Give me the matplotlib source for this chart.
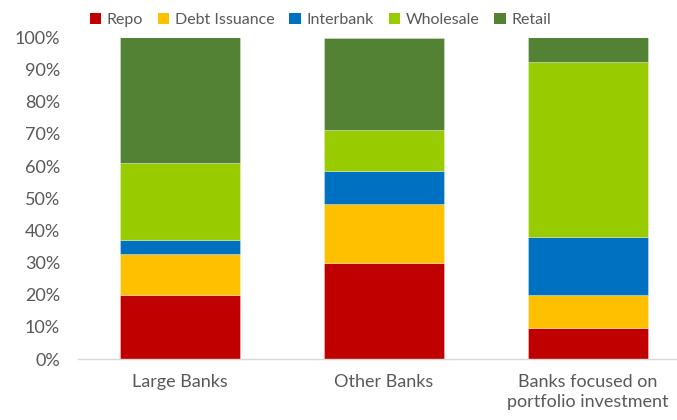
import matplotlib
matplotlib.use("Agg")
import matplotlib.pyplot as plt
from matplotlib.patches import Patch
import numpy as np

plt.rcParams['font.family'] = ['Lato', 'DejaVu Sans']

categories = ["Large Banks", "Other Banks", "Banks focused on\nportfolio investment"]
series_names = ["Repo", "Debt Issuance", "Interbank", "Wholesale", "Retail"]
repo = [19.8, 30.0, 9.5]
debt = [12.8, 18.1, 10.4]
interbank = [4.5, 10.5, 18.0]
wholesale = [23.8, 12.7, 54.5]
retail = [39.1, 28.7, 7.6]
colors = ["#C00000", "#FFC000", "#0070C0", "#99CC00", "#548235"]

series = [repo, debt, interbank, wholesale, retail]

fig = plt.figure(figsize=(6.77, 4.2), dpi=100)
ax = fig.add_axes([78/677, 1-359/420, (677-78)/677, (359-37.5)/420])

x = np.arange(len(categories))
bottom = np.zeros(len(categories))
for vals, c, name in zip(series, colors, series_names):
    ax.bar(x, vals, width=0.59, bottom=bottom, color=c, label=name,
           edgecolor=(1, 1, 1, 0.35), linewidth=0.6)
    bottom += np.array(vals)

ax.set_xlim(-0.5, (677-180)/204)
ax.set_ylim(0, 100)
ax.set_yticks(np.arange(0, 101, 10))
ax.set_yticklabels([f"{v}%" for v in range(0, 101, 10)])
ax.set_xticks(x)
ax.set_xticklabels(categories, linespacing=1.25)
for s in ["top", "right", "left"]:
    ax.spines[s].set_visible(False)
ax.spines["bottom"].set_color("#D9D9D9")
ax.spines["bottom"].set_linewidth(1)
ax.tick_params(axis="both", length=0, labelsize=13, colors="#595959")
ax.tick_params(axis="y", pad=13)
ax.tick_params(axis="x", pad=11)

handles = [Patch(facecolor=c, edgecolor='none') for c in colors]
fig.legend(handles, series_names, loc="center", bbox_to_anchor=(0.473, 1-20/420),
           ncol=5, frameon=False, fontsize=11.5, handlelength=0.7, handleheight=0.7,
           handletextpad=0.35, columnspacing=0.95, labelcolor="#595959")

fig.savefig("out.png", dpi=100)
